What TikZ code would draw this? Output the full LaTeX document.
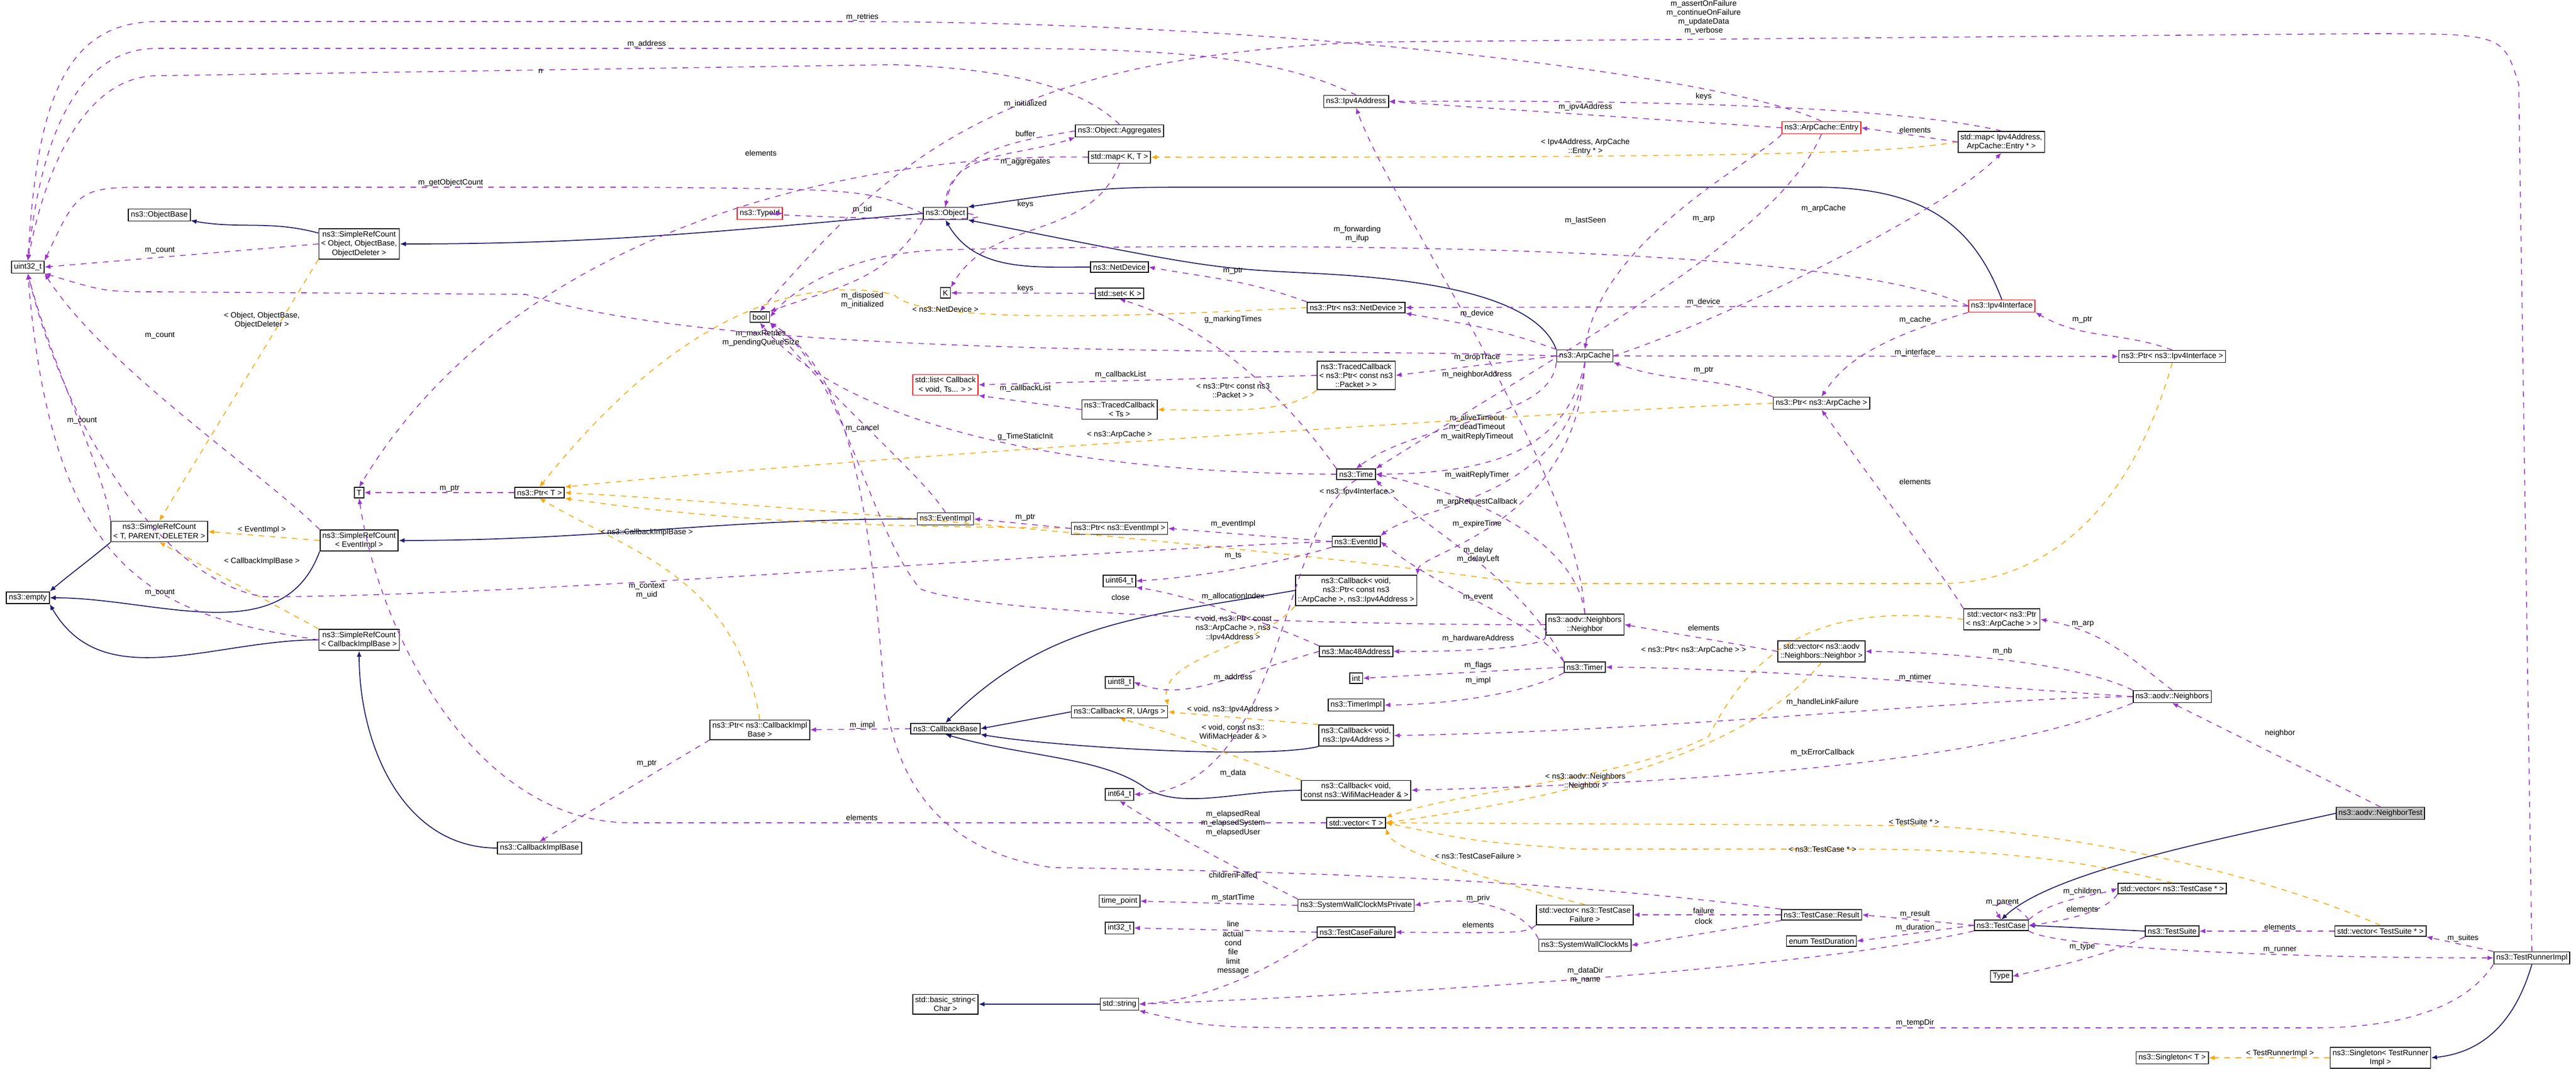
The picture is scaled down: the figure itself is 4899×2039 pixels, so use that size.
\documentclass[tikz,border=0pt]{standalone}
\usepackage{fontspec}
\setmainfont{Liberation Sans}
\usetikzlibrary{arrows.meta}
\definecolor{pur}{HTML}{9A32CD}
\definecolor{nav}{HTML}{191970}
\definecolor{org}{HTML}{FFA500}
\tikzset{
 box/.style={draw=black,line width=0.5pt,fill=white,font=\fontsize{4.2}{4.9}\selectfont,inner sep=1.3pt,align=center},
 redbox/.style={box,draw=red},
 lbl/.style={font=\fontsize{4.2}{4.9}\selectfont,align=center,inner sep=0pt},
 pe/.style={draw=pur,dashed,line width=0.45pt,-{Latex[length=3.2pt,width=2.6pt]}},
 oe/.style={draw=org,dashed,line width=0.45pt,-{Latex[length=3.2pt,width=2.6pt]}},
 ne/.style={draw=nav,line width=0.5pt,-{Latex[length=3.2pt,width=2.6pt]}},
}
\begin{document}
\begin{tikzpicture}[x=0.01cm,y=-0.01cm]
\useasboundingbox (0,0) rectangle (4899,2039);
% nodes
\node[box] (u32) at (53,508) {uint32\_t};
\node[box] (obase) at (303,409) {ns3::ObjectBase};
\node[box] (srcobj) at (683,464) {ns3::SimpleRefCount\\< Object, ObjectBase,\\ObjectDeleter >};
\node[redbox] (tid) at (1445,406) {ns3::TypeId};
\node[box] (bool) at (1445,603) {bool};
\node[box] (T) at (683,937) {T};
\node[box] (ptrT) at (1026,937) {ns3::Ptr< T >};
\node[box] (srct) at (303,1011) {ns3::SimpleRefCount\\< T, PARENT, DELETER >};
\node[box] (empty) at (53,1137) {ns3::empty};
\node[box] (srcev) at (683,1028) {ns3::SimpleRefCount\\< EventImpl >};
\node[box] (srccb) at (683,1217) {ns3::SimpleRefCount\\< CallbackImplBase >};
\node[box] (ptrcb) at (1445,1388) {ns3::Ptr< ns3::CallbackImpl\\Base >};
\node[box] (cbimpl) at (1026,1613) {ns3::CallbackImplBase};
\node[box] (ipv4) at (2579,193) {ns3::Ipv4Address};
\node[box] (agg) at (2129,249) {ns3::Object::Aggregates};
\node[box] (mapkt) at (2129,299) {std::map< K, T >};
\node[box] (obj) at (1798,406) {ns3::Object};
\node[box] (netdev) at (2129,508) {ns3::NetDevice};
\node[box] (K) at (1798,557) {K};
\node[box] (setk) at (2129,558) {std::set< K >};
\node[box] (ptrnd) at (2579,585) {ns3::Ptr< ns3::NetDevice >};
\node[box] (arpc) at (3014,677) {ns3::ArpCache};
\node[box] (tcpk) at (2579,714) {ns3::TracedCallback\\< ns3::Ptr< const ns3\\::Packet > >};
\node[redbox] (list) at (1798,732) {std::list< Callback\\< void, Ts... > >};
\node[box] (tcts) at (2129,779) {ns3::TracedCallback\\< Ts >};
\node[box] (time) at (2579,902) {ns3::Time};
\node[box] (evimpl) at (1798,987) {ns3::EventImpl};
\node[box] (ptrev) at (2129,1005) {ns3::Ptr< ns3::EventImpl >};
\node[redbox] (entry) at (3464,243) {ns3::ArpCache::Entry};
\node[box] (mapip) at (3806,270) {std::map< Ipv4Address,\\ArpCache::Entry * >};
\node[redbox] (ipif) at (3807,582) {ns3::Ipv4Interface};
\node[box] (ptrif) at (4131,678) {ns3::Ptr< ns3::Ipv4Interface >};
\node[box] (ptrarp) at (3464,767) {ns3::Ptr< ns3::ArpCache >};
\node[box] (evid) at (2579,1030) {ns3::EventId};
\node[box] (u64) at (2129,1105) {uint64\_t};
\node[box] (cbarp) at (2579,1123) {ns3::Callback< void,\\ns3::Ptr< const ns3\\::ArpCache >, ns3::Ipv4Address >};
\node[box] (nbr) at (3014,1188) {ns3::aodv::Neighbors\\::Neighbor};
\node[box] (mac) at (2579,1239) {ns3::Mac48Address};
\node[box] (timer) at (3014,1269) {ns3::Timer};
\node[box] (int) at (2579,1290) {int};
\node[box] (u8) at (2129,1298) {uint8\_t};
\node[box] (timpl) at (2579,1341) {ns3::TimerImpl};
\node[box] (cbr) at (2129,1354) {ns3::Callback< R, UArgs >};
\node[box] (cbb) at (1798,1386) {ns3::CallbackBase};
\node[box] (cbip) at (2579,1399) {ns3::Callback< void,\\ns3::Ipv4Address >};
\node[box] (cbwifi) at (2579,1503) {ns3::Callback< void,\\const ns3::WifiMacHeader \& >};
\node[box] (i64) at (2129,1511) {int64\_t};
\node[box] (vecT) at (2579,1565) {std::vector< T >};
\node[box] (tp) at (2129,1714) {time\_point};
\node[box] (swcp) at (2579,1722) {ns3::SystemWallClockMsPrivate};
\node[box] (vtcf) at (3014,1740) {std::vector< ns3::TestCase\\Failure >};
\node[box] (i32) at (2129,1765) {int32\_t};
\node[box] (tcf) at (2579,1773) {ns3::TestCaseFailure};
\node[box] (swc) at (3014,1798) {ns3::SystemWallClockMs};
\node[box] (bstr) at (1798,1910) {std::basic\_string<\\Char >};
\node[box] (str) at (2129,1910) {std::string};
\node[box] (vparp) at (3807,1178) {std::vector< ns3::Ptr\\< ns3::ArpCache > >};
\node[box] (vnbr) at (3464,1239) {std::vector< ns3::aodv\\::Neighbors::Neighbor >};
\node[box] (nbs) at (4131,1325) {ns3::aodv::Neighbors};
\node[box,fill=black!25] (ntest) at (4527,1547) {ns3::aodv::NeighborTest};
\node[box] (vtc) at (4131,1690) {std::vector< ns3::TestCase * >};
\node[box] (res) at (3464,1740) {ns3::TestCase::Result};
\node[box] (tc) at (3806,1760) {ns3::TestCase};
\node[box] (ts) at (4131,1771) {ns3::TestSuite};
\node[box] (vts) at (4527,1771) {std::vector< TestSuite * >};
\node[box] (tdur) at (3464,1790) {enum TestDuration};
\node[box] (tri) at (4815,1822) {ns3::TestRunnerImpl};
\node[box] (type) at (3806,1857) {Type};
\node[box] (sgT) at (4131,2012) {ns3::Singleton< T >};
\node[box] (sgtr) at (4527,2012) {ns3::Singleton< TestRunner\\Impl >};
% inheritance
\draw[ne] (srcobj) to[out=165,in=-10] (obase);
\draw[ne] (obj.west) to[out=185,in=0] (srcobj.east);
\draw[ne] (netdev.west) to[out=180,in=-60] (obj.south);
\draw[ne] (arpc.north west) .. controls (2920,560) and (2700,530) .. (2500,520) .. controls (2300,510) .. (obj.south east);
\draw[ne] (ipif.north) .. controls (3750,420) and (3650,356) .. (3450,356) -- (2300,356) .. controls (2100,356) .. (obj.north east);
\draw[ne] (srct.south west) to[out=-140,in=40] (empty.north east);
\draw[ne] (srcev.south west) to[out=-110,in=0] (empty.east);
\draw[ne] (srccb.west) to[out=180,in=-60] (empty.south east);
\draw[ne] (evimpl.west) to[out=180,in=0] (srcev.east);
\draw[ne] (cbimpl.west) to[out=180,in=-90] (srccb.south);
\draw[ne] (cbarp.west) to[out=190,in=45] (cbb.north);
\draw[ne] (cbr.west) -- (cbb.east);
\draw[ne] (cbip.south west) .. controls (2400,1445) and (2000,1420) .. (cbb.south east);
\draw[ne] (cbwifi.west) .. controls (2350,1505) and (2250,1540) .. (2180,1500) .. controls (2100,1440) and (1950,1440) .. (cbb.south);
\draw[ne] (str) -- (bstr);
\draw[ne] (ntest.west) .. controls (4200,1600) and (3900,1660) .. (tc.north);
\draw[ne] (ts.west) -- (tc.east);
\draw[ne] (tri.south) .. controls (4790,1920) and (4740,2000) .. (sgtr.east);
% templates
\draw[oe] (srcobj.south west) -- (srct.north);
\draw[oe] (srcev.west) -- (srct.east);
\draw[oe] (srccb.north west) -- (srct.south);
\draw[oe] (ptrnd.west) .. controls (2200,600) and (1750,620) .. (1700,560) .. controls (1600,540) and (1350,520) .. (ptrT.north);
\draw[oe] (ptrarp.west) .. controls (3000,780) and (1500,880) .. (ptrT.north east);
\draw[oe] (ptrif.south) .. controls (4100,800) and (4000,1100) .. (3700,1110) -- (2900,1110) .. controls (2500,1050) and (1500,960) .. (ptrT.east);
\draw[oe] (ptrev.west) .. controls (1900,1000) and (1500,1010) .. (ptrT.south east);
\draw[oe] (ptrcb.north) .. controls (1400,1100) and (1200,1050) .. (ptrT.south);
\draw[oe] (mapip.west) .. controls (3600,290) and (3400,300) .. (mapkt.east);
\draw[oe] (tcpk.south west) .. controls (2450,790) and (2300,780) .. (tcts.east);
\draw[oe] (cbarp.south west) .. controls (2400,1230) and (2200,1250) .. (cbr.north east);
\draw[oe] (cbip.north west) -- (cbr.east);
\draw[oe] (cbwifi.north west) .. controls (2350,1440) and (2250,1400) .. (cbr.south);
\draw[oe] (vparp.west) .. controls (3500,1150) and (3350,1200) .. (3250,1400) .. controls (3100,1480) and (2800,1500) .. (vecT.north east);
\draw[oe] (vnbr.south) .. controls (3350,1400) and (3100,1500) .. (vecT.east);
\draw[oe] (vtcf.north) .. controls (2850,1680) and (2650,1620) .. (vecT.south east);
\draw[oe] (vtc.north) .. controls (3900,1620) and (3700,1615) .. (3500,1615) -- (3000,1615) .. controls (2800,1600) .. (vecT.east);
\draw[oe] (vts.north) .. controls (4300,1660) and (3900,1570) .. (3600,1570) -- (vecT.east);
\draw[oe] (sgtr) -- (sgT);
% members
\draw[pe] (entry.north) .. controls (3300,150) and (2500,41) .. (1600,41) -- (300,41) .. controls (120,41) and (70,200) .. (u32.north);
\draw[pe] (ipv4.north) .. controls (2450,120) and (2300,92) .. (1900,92) -- (300,92) .. controls (150,92) and (80,250) .. (u32.north);
\draw[pe] (agg.north) .. controls (2050,160) and (1900,130) .. (1700,123) -- (300,144) .. controls (170,144) and (90,300) .. (u32.north);
\draw[pe] (tri.north) -- (4790,160) .. controls (4760,64) .. (4500,64) -- (2600,80) .. controls (1900,110) and (1700,300) .. (bool.north);
\draw[pe] (obj.west) .. controls (1650,360) .. (1200,356) -- (300,356) .. controls (150,356) .. (u32.north east);
\draw[pe] (srcobj.west) -- (u32.east);
\draw[pe] (srct.north west) .. controls (200,900) and (100,700) .. (u32.south);
\draw[pe] (srcev.north west) .. controls (500,900) and (200,700) .. (u32.south east);
\draw[pe] (srccb.west) .. controls (300,1170) and (100,1100) .. (u32.south);
\draw[pe] (arpc.west) .. controls (2500,660) and (1400,690) .. (1000,560) -- (300,555) .. controls (200,555) .. (u32.south east);
\draw[pe] (evid.west) .. controls (2000,1050) and (1000,1135) .. (500,1135) .. controls (300,1100) and (120,800) .. (u32.south);
\draw[pe] (obj.east) to[out=-10,in=180] (tid.east);
\draw[pe] (obj.north) to[out=90,in=200] (agg.south west);
\draw[pe] (agg.west) to[out=190,in=80] (obj.north);
\draw[pe] (obj.south west) to[out=-120,in=20] (bool.north east);
\draw[pe] (mapkt.south) to[out=-110,in=60] (K.north east);
\draw[pe] (setk.west) -- (K.east);
\draw[pe] (mapkt.west) .. controls (1700,290) and (1000,400) .. (T.north);
\draw[pe] (vecT.west) -- (1200,1565) .. controls (900,1565) and (720,1200) .. (T.south);
\draw[pe] (ptrT.west) -- (T.east);
\draw[pe] (ipif.west) .. controls (3500,466) and (2500,460) .. (1800,475) .. controls (1600,480) and (1500,560) .. (bool.east);
\draw[pe] (ptrnd.north west) to[out=160,in=-10] (netdev.east);
\draw[pe] (arpc.north west) to[out=160,in=-10] (ptrnd.south east);
\draw[pe] (ipif.west) -- (ptrnd.east);
\draw[pe] (time.north west) .. controls (2450,760) and (2300,620) .. (setk.south);
\draw[pe] (time.west) .. controls (2000,900) and (1600,800) .. (bool.south);
\draw[pe] (arpc.west) -- (tcpk.east);
\draw[pe] (tcpk.west) -- (list.east);
\draw[pe] (tcts.west) -- (list.south east);
\draw[pe] (arpc.south west) .. controls (2950,800) and (2700,800) .. (time.north);
\draw[pe] (arpc.south) .. controls (2980,850) and (2850,900) .. (time.east);
\draw[pe] (arpc.south) .. controls (2990,950) and (2700,960) .. (evid.north east);
\draw[pe] (arpc.south) .. controls (3000,1000) and (2700,1050) .. (cbarp.north east);
\draw[pe] (entry.south) .. controls (3380,450) and (3000,650) .. (time.north east);
\draw[pe] (entry.west) -- (ipv4.east);
\draw[pe] (entry.south west) .. controls (3350,300) and (3050,450) .. (arpc.north);
\draw[pe] (mapip.north) .. controls (3600,200) and (3100,190) .. (ipv4.east);
\draw[pe] (arpc.east) .. controls (3300,600) and (3700,400) .. (mapip.south);
\draw[pe] (mapip.west) -- (entry.east);
\draw[pe] (ptrarp.north west) to[out=160,in=-20] (arpc.south east);
\draw[pe] (ipif.south west) .. controls (3550,650) and (3500,700) .. (ptrarp.north);
\draw[pe] (arpc.east) -- (ptrif.west);
\draw[pe] (ptrif.north) to[out=160,in=-30] (ipif.south east);
\draw[pe] (vparp.north west) .. controls (3700,1100) and (3550,900) .. (ptrarp.south);
\draw[pe] (nbs.north) .. controls (4050,1250) and (4000,1200) .. (vparp.east);
\draw[pe] (nbs.north west) .. controls (3950,1260) and (3700,1240) .. (vnbr.east);
\draw[pe] (nbs.west) .. controls (3700,1300) and (3300,1270) .. (timer.east);
\draw[pe] (nbs.west) .. controls (3700,1330) and (3200,1390) .. (cbip.east);
\draw[pe] (nbs.south west) .. controls (3900,1400) and (3600,1480) .. (cbwifi.east);
\draw[pe] (vnbr.west) -- (nbr.east);
\draw[pe] (nbr.south west) .. controls (2950,1230) and (2800,1240) .. (mac.east);
\draw[pe] (nbr.north) .. controls (3000,1050) and (2850,950) .. (time.east);
\draw[pe] (nbr.west) .. controls (2800,1190) and (1900,1180) .. (1750,1120) .. controls (1650,1000) and (1600,700) .. (bool.south east);
\draw[pe] (nbr.north) .. controls (3000,900) and (2650,400) .. (ipv4.south);
\draw[pe] (timer.west) -- (int.east);
\draw[pe] (timer.south west) .. controls (2900,1320) and (2750,1340) .. (timpl.east);
\draw[pe] (timer.north west) .. controls (2900,1100) and (2700,1000) .. (time.south east);
\draw[pe] (timer.north west) .. controls (2900,1170) and (2750,1130) .. (evid.east);
\draw[pe] (evid.west) -- (ptrev.east);
\draw[pe] (evid.south west) .. controls (2400,1080) and (2250,1100) .. (u64.east);
\draw[pe] (ptrev.west) -- (evimpl.east);
\draw[pe] (evimpl.north) .. controls (1750,900) and (1600,780) .. (bool.south east);
\draw[pe] (ptrcb.south west) -- (cbimpl.north);
\draw[pe] (cbb.west) -- (ptrcb.east);
\draw[pe] (mac.north west) .. controls (2400,1180) and (2250,1130) .. (u64.south east);
\draw[pe] (mac.west) .. controls (2300,1300) and (2250,1330) .. (u8.east);
\draw[pe] (time.south) .. controls (2430,1000) and (2450,1500) .. (i64.east);
\draw[pe] (swcp.north west) .. controls (2350,1650) and (2250,1600) .. (i64.south);
\draw[pe] (swcp.west) -- (tp.east);
\draw[pe] (swc.north west) .. controls (2900,1730) and (2800,1700) .. (swcp.east);
\draw[pe] (tcf.west) -- (i32.east);
\draw[pe] (tcf.south west) .. controls (2400,1850) and (2300,1900) .. (str.east);
\draw[pe] (vtcf.south west) .. controls (2900,1775) .. (tcf.east);
\draw[pe] (res.west) -- (vtcf.east);
\draw[pe] (res.south west) -- (swc.east);
\draw[pe] (res.north west) .. controls (3000,1680) and (2600,1660) .. (2000,1650) .. controls (1800,1620) and (1700,1500) .. (1680,1300) .. controls (1650,900) and (1600,700) .. (bool.south east);
\draw[pe] (tc.west) -- (res.east);
\draw[pe] (tc.west) -- (tdur.east);
\draw[pe] (tc.north east) .. controls (3830,1710) and (3780,1710) .. (tc.north);
\draw[pe] (tc.north east) .. controls (3900,1710) and (4000,1700) .. (vtc.west);
\draw[pe] (vtc.south west) .. controls (4000,1740) and (3900,1755) .. (tc.east);
\draw[pe] (tc.south west) .. controls (3500,1830) and (2900,1880) .. (str.east);
\draw[pe] (tc.south east) .. controls (3900,1800) and (4300,1822) .. (tri.west);
\draw[pe] (ts.south west) .. controls (4000,1820) and (3900,1840) .. (type.east);
\draw[pe] (vts.west) -- (ts.east);
\draw[pe] (tri.north west) -- (vts.south east);
\draw[pe] (tri.south west) .. controls (4700,1900) and (4600,1955) .. (4400,1955) -- (2600,1955) .. controls (2300,1955) .. (str.south east);
\draw[pe] (ntest.north) -- (nbs.south);
% labels
\node[lbl] (l1) at (1640,33) {m\_retries};
\node[lbl] (l2) at (1230,84) {m\_address};
\node[lbl] (l3) at (1028,136) {n};
\node[lbl] (l4) at (3240,33) {m\_assertOnFailure\\m\_continueOnFailure\\m\_updateData\\m\_verbose};
\node[lbl] (l5) at (1447,291) {elements};
\node[lbl] (l6) at (857,348) {m\_getObjectCount};
\node[lbl] (l7) at (304,476) {m\_count};
\node[lbl] (l8) at (498,609) {< Object, ObjectBase,\\ObjectDeleter >};
\node[lbl] (l9) at (304,638) {m\_count};
\node[lbl] (l10) at (156,800) {m\_count};
\node[lbl] (l11) at (1447,643) {m\_maxRetries\\m\_pendingQueueSize};
\node[lbl] (l12) at (855,929) {m\_ptr};
\node[lbl] (l13) at (1950,198) {m\_initialized};
\node[lbl] (l14) at (1950,254) {buffer};
\node[lbl] (l15) at (1950,308) {m\_aggregates};
\node[lbl] (l16) at (1950,389) {keys};
\node[lbl] (l17) at (1640,399) {m\_tid};
\node[lbl] (l18) at (3240,184) {keys};
\node[lbl] (l19) at (3015,204) {m\_ipv4Address};
\node[lbl] (l20) at (3015,279) {< Ipv4Address, ArpCache\\::Entry * >};
\node[lbl] (l21) at (3015,420) {m\_lastSeen};
\node[lbl] (l22) at (3240,417) {m\_arp};
\node[lbl] (l23) at (2581,445) {m\_forwarding\\m\_ifup};
\node[lbl] (l24) at (2345,515) {m\_ptr};
\node[lbl] (l25) at (1950,549) {keys};
\node[lbl] (l26) at (1640,571) {m\_disposed\\m\_initialized};
\node[lbl] (l27) at (1798,588) {< ns3::NetDevice >};
\node[lbl] (l28) at (2345,608) {g\_markingTimes};
\node[lbl] (l29) at (3240,575) {m\_device};
\node[lbl] (l30) at (2809,597) {m\_device};
\node[lbl] (l31) at (2809,680) {m\_dropTrace};
\node[lbl] (l32) at (2809,713) {m\_neighborAddress};
\node[lbl] (l33) at (3240,704) {m\_ptr};
\node[lbl] (l34) at (2131,713) {m\_callbackList};
\node[lbl] (l35) at (1950,739) {m\_callbackList};
\node[lbl] (l36) at (2345,743) {< ns3::Ptr< const ns3\\::Packet > >};
\node[lbl] (l37) at (1640,815) {m\_cancel};
\node[lbl] (l38) at (1950,831) {g\_TimeStaticInit};
\node[lbl] (l39) at (2129,827) {< ns3::ArpCache >};
\node[lbl] (l40) at (2809,813) {m\_aliveTimeout\\m\_deadTimeout\\m\_waitReplyTimeout};
\node[lbl] (l41) at (2809,904) {m\_waitReplyTimer};
\node[lbl] (l42) at (2581,936) {< ns3::Ipv4Interface >};
\node[lbl] (l43) at (2809,955) {m\_arpRequestCallback};
\node[lbl] (l44) at (1950,984) {m\_ptr};
\node[lbl] (l45) at (2345,997) {m\_eventImpl};
\node[lbl] (l46) at (2809,997) {m\_expireTime};
\node[lbl] (l47) at (3642,247) {elements};
\node[lbl] (l48) at (3468,397) {m\_arpCache};
\node[lbl] (l49) at (3642,609) {m\_cache};
\node[lbl] (l50) at (3960,608) {m\_ptr};
\node[lbl] (l51) at (3642,671) {m\_interface};
\node[lbl] (l52) at (3642,916) {elements};
\node[lbl] (l53) at (498,1008) {< EventImpl >};
\node[lbl] (l54) at (1230,1013) {< ns3::CallbackImplBase >};
\node[lbl] (l55) at (498,1068) {< CallbackImplBase >};
\node[lbl] (l56) at (304,1127) {m\_count};
\node[lbl] (l57) at (1230,1124) {m\_context\\m\_uid};
\node[lbl] (l58) at (1230,1452) {m\_ptr};
\node[lbl] (l59) at (2345,1057) {m\_ts};
\node[lbl] (l60) at (2811,1055) {m\_delay\\m\_delayLeft};
\node[lbl] (l61) at (2131,1136) {close};
\node[lbl] (l62) at (2345,1135) {m\_allocationIndex};
\node[lbl] (l63) at (2811,1136) {m\_event};
\node[lbl] (l64) at (2345,1195) {< void, ns3::Ptr< const\\ns3::ArpCache >, ns3\\::Ipv4Address >};
\node[lbl] (l65) at (2811,1215) {m\_hardwareAddress};
\node[lbl] (l66) at (3240,1194) {elements};
\node[lbl] (l67) at (3221,1237) {< ns3::Ptr< ns3::ArpCache > >};
\node[lbl] (l68) at (2811,1266) {m\_flags};
\node[lbl] (l69) at (2345,1289) {m\_address};
\node[lbl] (l70) at (2811,1295) {m\_impl};
\node[lbl] (l71) at (2345,1350) {< void, ns3::Ipv4Address >};
\node[lbl] (l72) at (1640,1380) {m\_impl};
\node[lbl] (l73) at (2345,1392) {< void, const ns3::\\WifiMacHeader \& >};
\node[lbl] (l74) at (2345,1471) {m\_data};
\node[lbl] (l75) at (3015,1486) {< ns3::aodv::Neighbors\\::Neighbor >};
\node[lbl] (l76) at (1639,1555) {elements};
\node[lbl] (l77) at (2345,1566) {m\_elapsedReal\\m\_elapsedSystem\\m\_elapsedUser};
\node[lbl] (l78) at (2811,1628) {< ns3::TestCaseFailure >};
\node[lbl] (l79) at (2345,1664) {childrenFailed};
\node[lbl] (l80) at (2345,1708) {m\_startTime};
\node[lbl] (l81) at (2811,1709) {m\_priv};
\node[lbl] (l82) at (3240,1732) {failure};
\node[lbl] (l83) at (3240,1752) {clock};
\node[lbl] (l84) at (2345,1757) {line};
\node[lbl] (l85) at (2811,1759) {elements};
\node[lbl] (l86) at (2345,1812) {actual\\cond\\file\\limit\\message};
\node[lbl] (l87) at (3015,1855) {m\_dataDir\\m\_name};
\node[lbl] (l88) at (3961,1187) {m\_arp};
\node[lbl] (l89) at (3808,1239) {m\_nb};
\node[lbl] (l90) at (3642,1289) {m\_ntimer};
\node[lbl] (l91) at (3466,1336) {m\_handleLinkFailure};
\node[lbl] (l92) at (4336,1395) {neighbor};
\node[lbl] (l93) at (3466,1432) {m\_txErrorCallback};
\node[lbl] (l94) at (3640,1563) {< TestSuite * >};
\node[lbl] (l95) at (3466,1615) {< ns3::TestCase * >};
\node[lbl] (l96) at (3960,1696) {m\_children};
\node[lbl] (l97) at (3808,1716) {m\_parent};
\node[lbl] (l98) at (3960,1729) {elements};
\node[lbl] (l99) at (3642,1739) {m\_result};
\node[lbl] (l100) at (3642,1765) {m\_duration};
\node[lbl] (l101) at (4336,1763) {elements};
\node[lbl] (l102) at (4684,1785) {m\_suites};
\node[lbl] (l103) at (3960,1801) {m\_type};
\node[lbl] (l104) at (4336,1807) {m\_runner};
\node[lbl] (l105) at (3642,1946) {m\_tempDir};
\node[lbl] (l106) at (4336,2004) {< TestRunnerImpl >};
\end{tikzpicture}
\end{document}
